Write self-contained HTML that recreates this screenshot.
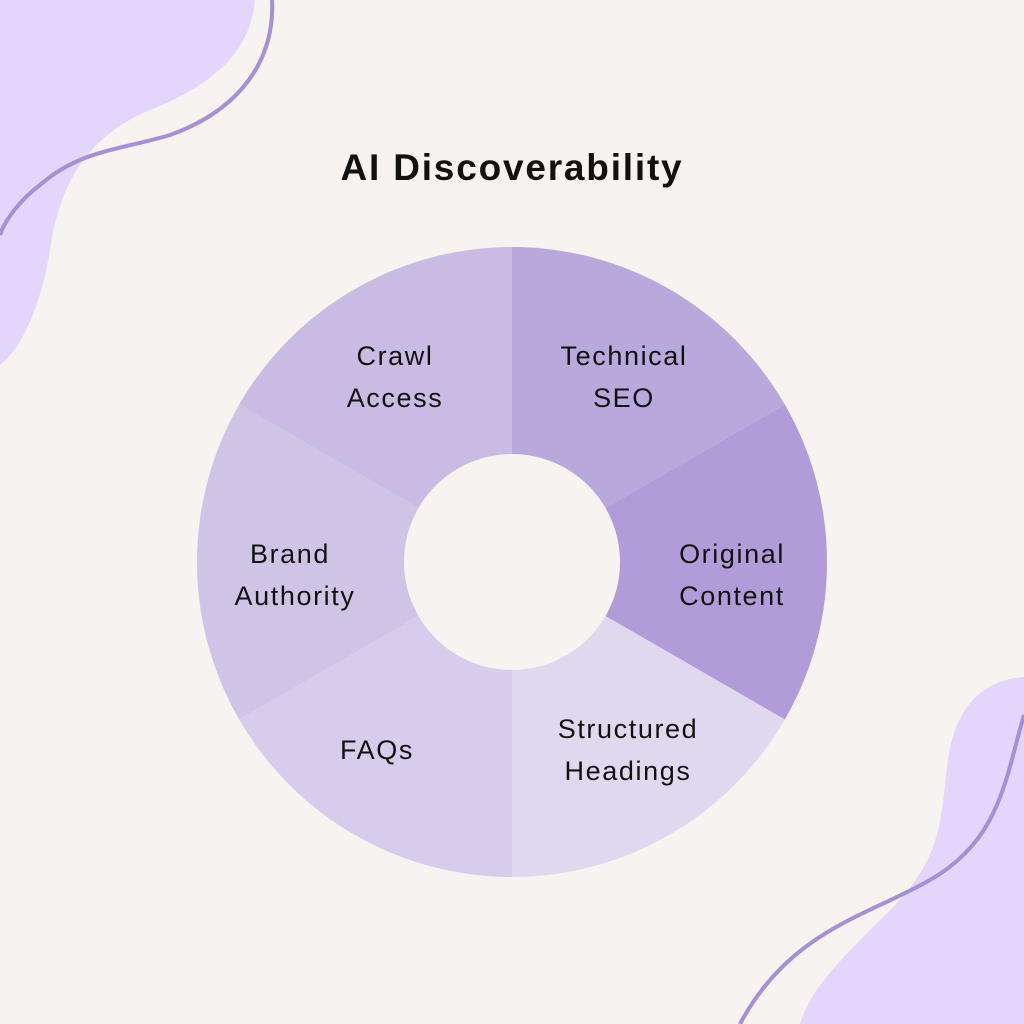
<!DOCTYPE html>
<html><head><meta charset="utf-8"><style>
html,body{margin:0;padding:0;background:#f6f3f0;}
svg{display:block;}
text{font-family:"Liberation Sans",sans-serif;fill:#111;}
</style></head><body>
<svg width="1024" height="1024" viewBox="0 0 1024 1024" xmlns="http://www.w3.org/2000/svg">
<rect width="1024" height="1024" fill="#f6f3f0"/>
<path d="M0,0 L255,0 C250,60 200,90 150,110 C90,135 60,180 50,250 C40,310 20,350 0,365 Z" fill="#e3d5fc"/>
<path d="M272,0 C275,60 240,110 170,135 C120,150 80,150 40,185 C20,200 5,220 0,235" fill="none" stroke="#a58fd6" stroke-width="4"/>
<path d="M1024,677 C980,680 955,710 948,760 C940,820 945,860 880,920 C840,960 810,990 800,1024 L1024,1024 Z" fill="#e3d5fc"/>
<path d="M1024,715 C1005,780 1000,840 930,880 C870,915 790,930 740,1024" fill="none" stroke="#a58fd6" stroke-width="4"/>
<text x="512" y="180" text-anchor="middle" font-size="37" font-weight="bold" letter-spacing="1.8" fill="#000">AI Discoverability</text>
<g>
<path d="M512,562 L512,247 A315,315 0 0 1 784.8,404.5 Z" fill="#b9a8dc"/>
<path d="M512,562 L784.8,404.5 A315,315 0 0 1 784.8,719.5 Z" fill="#b19cd9"/>
<path d="M512,562 L784.8,719.5 A315,315 0 0 1 512,877 Z" fill="#e0d8ef"/>
<path d="M512,562 L512,877 A315,315 0 0 1 239.2,719.5 Z" fill="#d8ccec"/>
<path d="M512,562 L239.2,719.5 A315,315 0 0 1 239.2,404.5 Z" fill="#cfc4e6"/>
<path d="M512,562 L239.2,404.5 A315,315 0 0 1 512,247 Z" fill="#c9bbe3"/>
<circle cx="512" cy="562" r="108" fill="#f6f3f0"/>
</g>
<g font-size="27" text-anchor="middle" letter-spacing="1.6">
<text x="395" y="365">Crawl</text><text x="395" y="407">Access</text>
<text x="624" y="365">Technical</text><text x="624" y="407">SEO</text>
<text x="290" y="563">Brand</text><text x="295" y="605">Authority</text>
<text x="732" y="563">Original</text><text x="732" y="605">Content</text>
<text x="377" y="759">FAQs</text>
<text x="628" y="738">Structured</text><text x="628" y="780">Headings</text>
</g>
</svg>
</body></html>
